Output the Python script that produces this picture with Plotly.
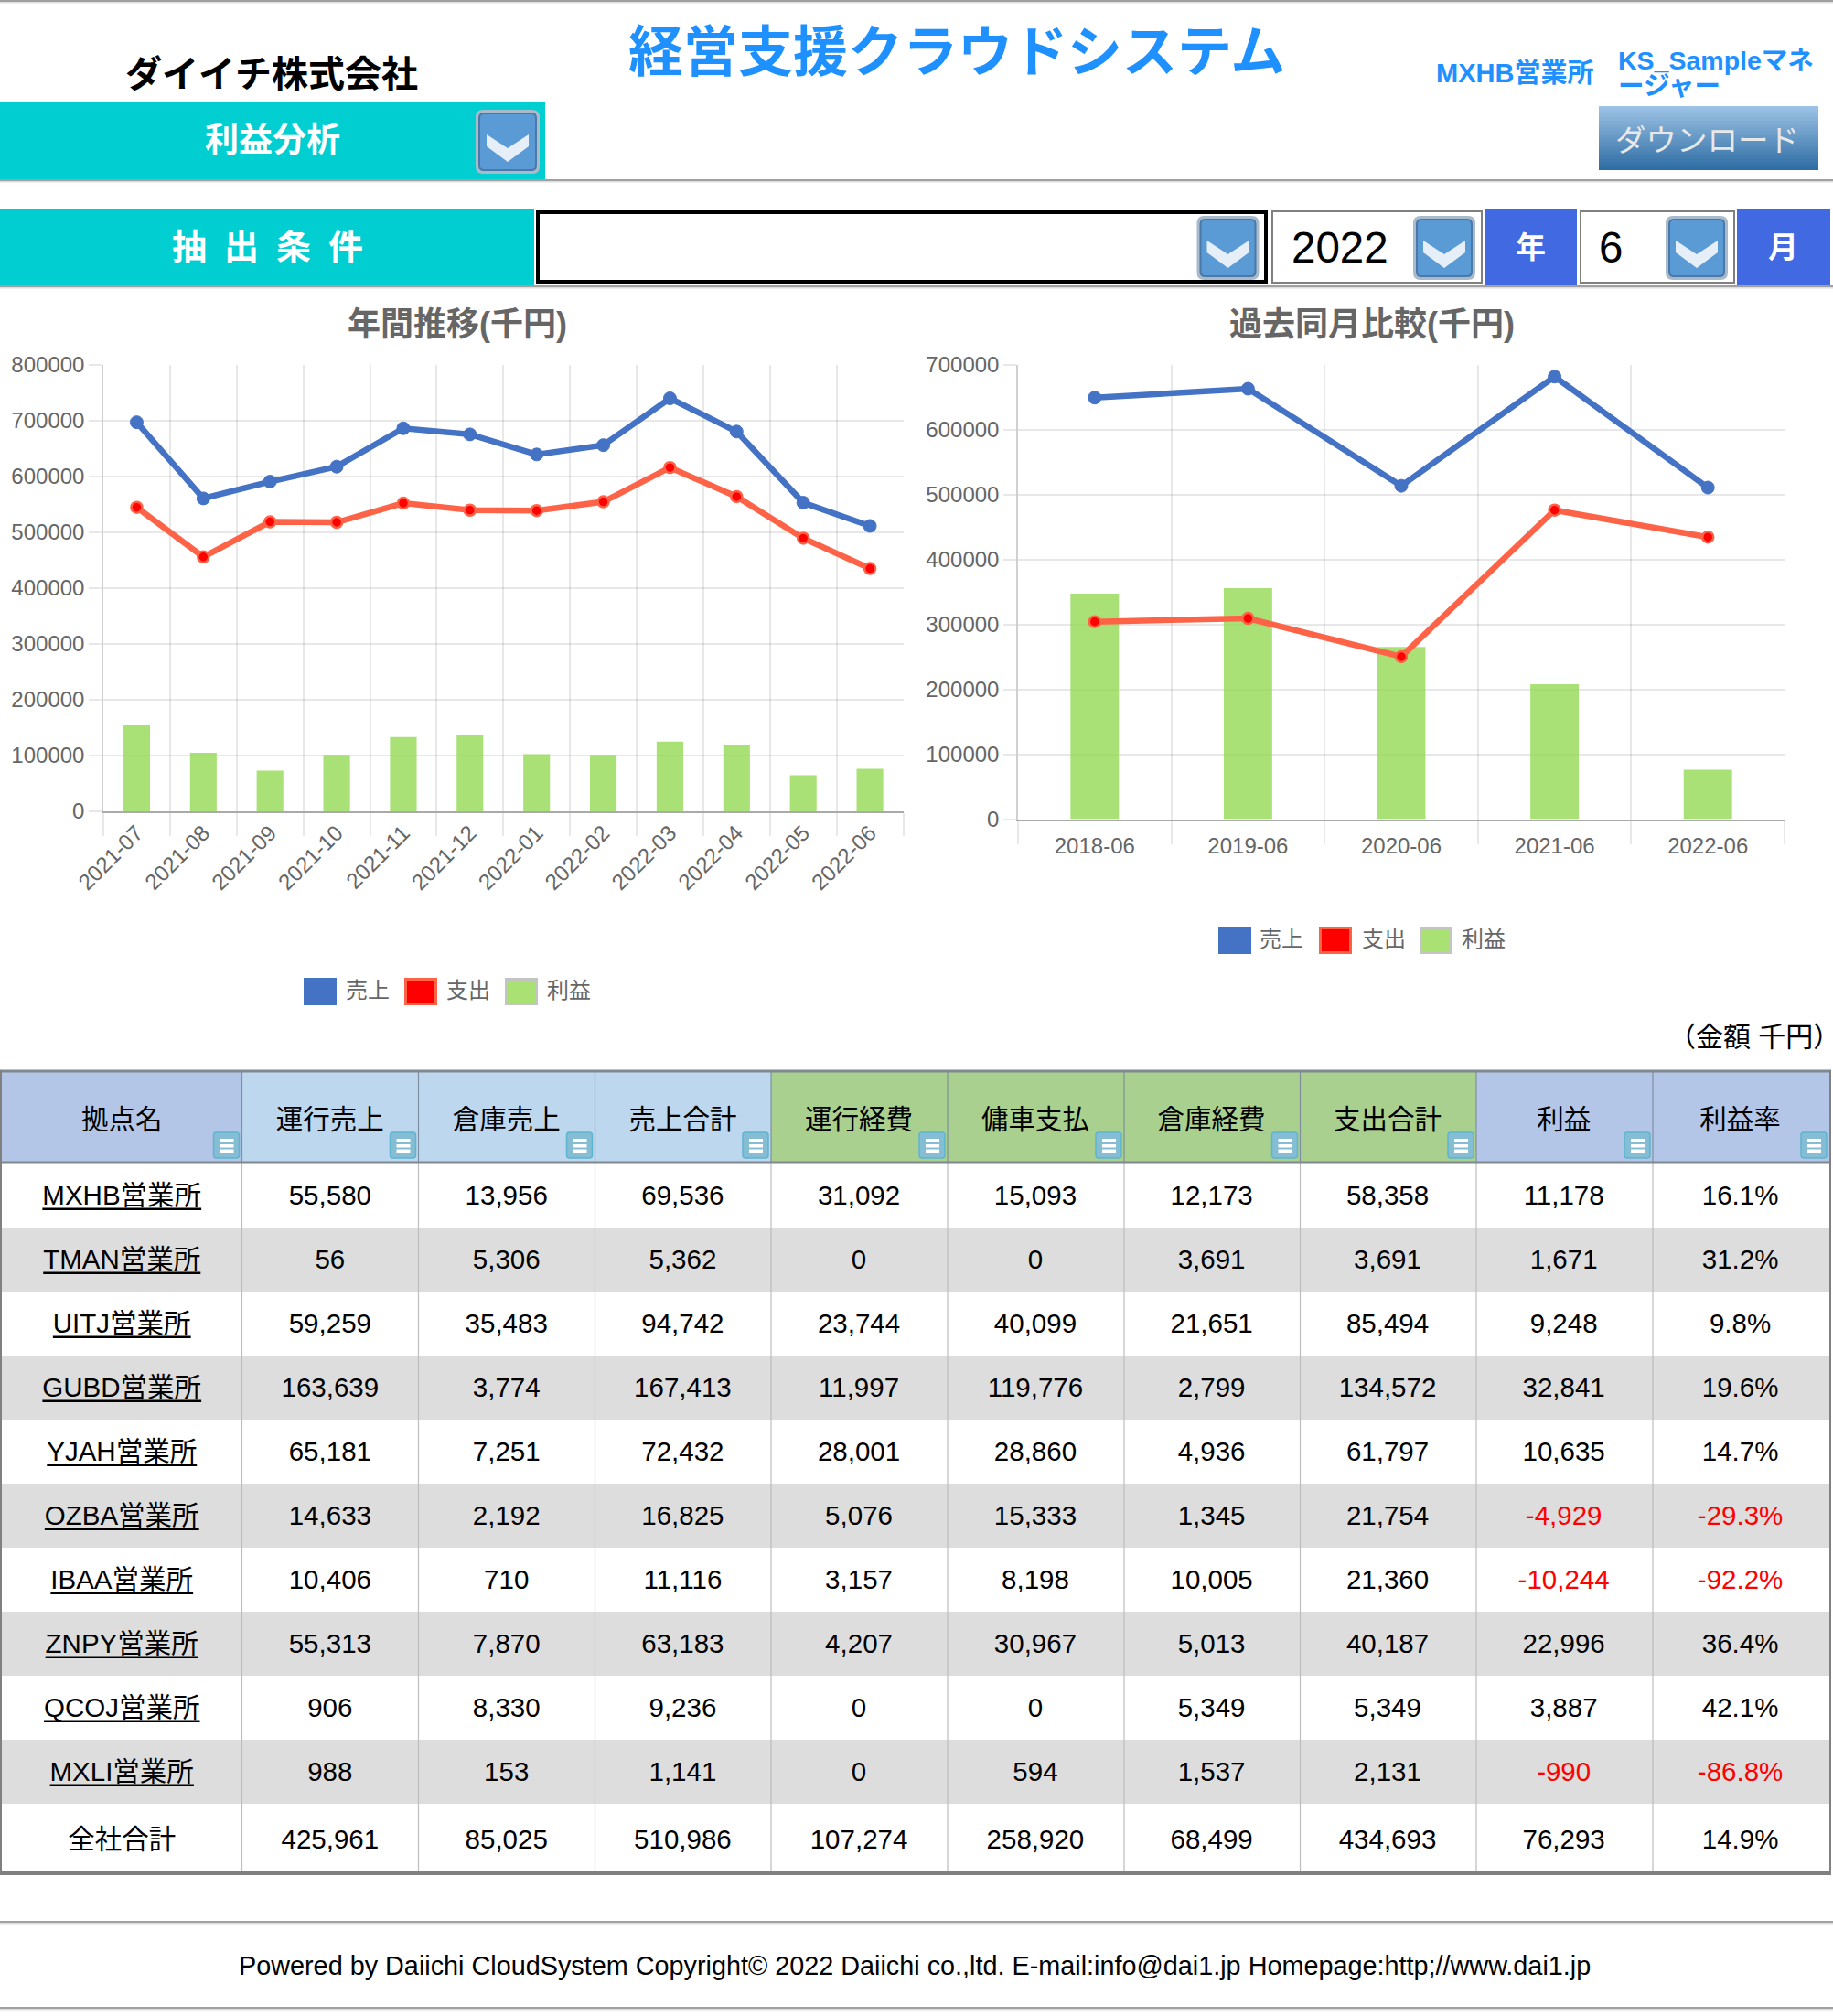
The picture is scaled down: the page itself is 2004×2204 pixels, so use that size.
import plotly.graph_objects as go

W, H = 2004, 2204
FONT = "Liberation Sans, Noto Sans CJK JP, sans-serif"

# ---- chart data ----
months = ["2021-07","2021-08","2021-09","2021-10","2021-11","2021-12","2022-01","2022-02","2022-03","2022-04","2022-05","2022-06"]
month_sales = [696600,560200,590300,617100,685800,674900,638900,655600,739400,679900,552600,510986]
month_cost = [544300,455500,518300,517500,551800,539200,538400,554300,615400,563500,489000,434693]
month_profit = [154100,104700,72900,101300,133100,136500,102200,101300,124800,118100,64500,76293]

years = ["2018-06","2019-06","2020-06","2021-06","2022-06"]
year_sales = [649600,663300,513700,682000,510986]
year_cost = [304300,309300,250300,476200,434693]
year_profit = [347500,356100,265500,207900,76293]

# ---- table data ----
col_headers = ["拠点名","運行売上","倉庫売上","売上合計","運行経費","傭車支払","倉庫経費","支出合計","利益","利益率"]
branches = ["MXHB営業所","TMAN営業所","UITJ営業所","GUBD営業所","YJAH営業所","OZBA営業所","IBAA営業所","ZNPY営業所","QCOJ営業所","MXLI営業所"]
unko_uri = [55580,56,59259,163639,65181,14633,10406,55313,906,988]
soko_uri = [13956,5306,35483,3774,7251,2192,710,7870,8330,153]
uri_total = [69536,5362,94742,167413,72432,16825,11116,63183,9236,1141]
unko_kei = [31092,0,23744,11997,28001,5076,3157,4207,0,0]
yosha = [15093,0,40099,119776,28860,15333,8198,30967,0,594]
soko_kei = [12173,3691,21651,2799,4936,1345,10005,5013,5349,1537]
shi_total = [58358,3691,85494,134572,61797,21754,21360,40187,5349,2131]
rieki = [11178,1671,9248,32841,10635,-4929,-10244,22996,3887,-990]
riekiritsu = [16.1,31.2,9.8,19.6,14.7,-29.3,-92.2,36.4,42.1,-86.8]
total_row = ["全社合計",425961,85025,510986,107274,258920,68499,434693,76293,14.9]

BLUE = "#4472C4"
TOMATO = "#FF6347"
RED = "#FF0000"
BAR = "rgba(146,217,80,0.78)"
TXT = "#666666"
GRID = "rgba(0,0,0,0.09)"
TURQ = "#00CED1"
ROYAL = "#4169E1"
LINK = "#1E90FF"

def X(p): return p / W
def Y(p): return 1 - p / H

shapes, annos = [], []

def rect(x0, y0, x1, y1, fill, line=None, lw=0):
    shapes.append(dict(type="rect", xref="paper", yref="paper", x0=X(x0), x1=X(x1), y0=Y(y0), y1=Y(y1),
                       fillcolor=fill, line=dict(color=line or "rgba(0,0,0,0)", width=lw), layer="below"))

def path(d, fill=None, line=None, lw=0):
    shapes.append(dict(type="path", xref="paper", yref="paper", path=d,
                       fillcolor=fill or "rgba(0,0,0,0)", line=dict(color=line or "rgba(0,0,0,0)", width=lw), layer="below"))

def text(t, x, y, size, color="#000", bold=False, anchor="center"):
    annos.append(dict(text=f"<b>{t}</b>" if bold else t, x=X(x), y=Y(y), xref="paper", yref="paper", showarrow=False,
                      xanchor=anchor, yanchor="middle", font=dict(size=size, color=color, family=FONT)))

def rrect_path(x0, y0, x1, y1, r):
    return (f"M{X(x0+r)},{Y(y0)} L{X(x1-r)},{Y(y0)} Q{X(x1)},{Y(y0)} {X(x1)},{Y(y0+r)} "
            f"L{X(x1)},{Y(y1-r)} Q{X(x1)},{Y(y1)} {X(x1-r)},{Y(y1)} L{X(x0+r)},{Y(y1)} "
            f"Q{X(x0)},{Y(y1)} {X(x0)},{Y(y1-r)} L{X(x0)},{Y(y0+r)} Q{X(x0)},{Y(y0)} {X(x0+r)},{Y(y0)} Z")

def dropdown(x0, y0, x1, y1):
    path(rrect_path(x0, y0, x1, y1, 8), fill="#A9BACB")
    path(rrect_path(x0+3, y0+3, x1-3, y1-3, 6), fill="#4A78A8")
    path(rrect_path(x0+5, y0+5, x1-5, y1-5, 4), fill="#5B9BD5")
    cx = (x0+x1)/2
    cy = (y0+y1)/2
    path(f"M{X(cx-23)},{Y(cy-8)} L{X(cx)},{Y(cy+7)} L{X(cx+23)},{Y(cy-8)} L{X(cx+23)},{Y(cy+5)} "
         f"L{X(cx)},{Y(cy+22)} L{X(cx-23)},{Y(cy+5)} Z", fill="#E6EFF8")

def hline(y, color="#A0A0A0", h=2.5):
    rect(0, y, W, y+h, color)
    rect(0, y+h, W, y+h+1.5, "#EEEEEE")

# ---- page header ----
hline(0)
hline(196)
hline(312)
hline(2100)
hline(2194)

text("ダイイチ株式会社", 297, 81, 40, "#000", True)
text("経営支援クラウドシステム", 1046, 58, 60, LINK, True)
text("MXHB営業所", 1656, 80, 29, LINK, True)
text("KS_Sampleマネ", 1767, 66, 28.5, LINK, True, "left")
text("ージャー", 1767, 94, 28.5, LINK, True, "left")

rect(0, 112, 596, 196, TURQ)
text("利益分析", 298, 153, 37, "#FFFFFF", True)
dropdown(520, 120, 590, 190)

# download button gradient
n = 35
for i in range(n):
    t = i / (n-1)
    c = (int(157+(46-157)*t), int(195+(109-195)*t), int(230+(164-230)*t))
    rect(1748, 116+i*2, 1988, 118+i*2, f"rgb{c}")
text("ダウンロード", 1866, 153, 33.5, "#E8E8E8")

# filter row
rect(0, 228, 584, 312, TURQ)
text("抽\u2002出\u2002条\u2002件", 292, 270, 38, "#FFFFFF", True)
rect(588, 232, 1384, 308, "#FFFFFF", "#000000", 4)
dropdown(1308.5, 236, 1376.5, 306)
rect(1391, 231, 1620, 309, "#FFFFFF", "#808080", 2)
text("2022", 1410, 270, 47.5, "#000", False, "left")
dropdown(1545, 236, 1613, 306)
rect(1623, 228, 1724, 312, ROYAL)
text("年", 1673, 270, 33, "#FFFFFF", True)
rect(1728, 231, 1896, 309, "#FFFFFF", "#808080", 2)
text("6", 1746, 270, 47.5, "#000", False, "left")
dropdown(1821, 236, 1889, 306)
rect(1899, 228, 2001, 312, ROYAL)
text("月", 1949, 270, 33, "#FFFFFF", True)

# chart titles
text("年間推移(千円)", 500, 354, 36, TXT, True)
text("過去同月比較(千円)", 1500, 354, 36, TXT, True)

# custom legends
def legend(xs, txs, y0, y1):
    names = ["売上", "支出", "利益"]
    rect(xs[0], y0, xs[0]+36, y1, BLUE)
    rect(xs[1]+1.5, y0+1.5, xs[1]+34.5, y1-1.5, RED, TOMATO, 3)
    rect(xs[2]+1.5, y0+1.5, xs[2]+34.5, y1-1.5, "#A9E272", "#C4C4C4", 3)
    for nm, tx in zip(names, txs):
        text(nm, tx, (y0+y1)/2 - 1.5, 24, TXT, False, "left")

legend([332, 442, 552], [375.5, 485.5, 595.5], 1069, 1099)
legend([1332, 1442, 1552], [1374.5, 1486.5, 1595.5], 1013, 1043)

text("（金額 千円）", 1918, 1133, 30, "#000")
text("Powered by Daiichi CloudSystem Copyright© 2022 Daiichi co.,ltd. E-mail:info@dai1.jp Homepage:http;//www.dai1.jp",
     1000, 2149, 28.8, "#000")

# ---- table background ----
edges = [2, 264.5, 457.5, 650.5, 843, 1036, 1229, 1421.5, 1614, 1807, 2000]
HEAD_T, HEAD_B, ROW_H = 1172, 1271, 70
TFONT = 29.5
head_fill = ["#B4C6E7","#BDD7EE","#BDD7EE","#BDD7EE","#A9D08E","#A9D08E","#A9D08E","#A9D08E","#B4C6E7","#B4C6E7"]
for i, f in enumerate(head_fill):
    rect(edges[i], HEAD_T, edges[i+1], HEAD_B, f)
for i in range(len(branches)):
    if i % 2 == 1:
        rect(edges[0], 1272+i*ROW_H, edges[-1], 1272+(i+1)*ROW_H, "#DDDDDD")
for e in edges[1:-1]:
    rect(e-0.6, HEAD_T, e+0.6, HEAD_B, "#7F8FA0")
    rect(e-0.6, HEAD_B, e+0.6, 2046, "#BDBDBD")
rect(0, 1169.5, W-2, 1172.5, "#808890")
rect(0, 1269.5, W-2, 1272.5, "#808890")
rect(0, 2046, W-2, 2050, "#808080")
rect(0, 1170, 2, 2050, "#808080")
rect(2000, 1170, 2002, 2050, "#808080")

# filter icons
for e in edges[1:]:
    x1 = e - 3
    path(rrect_path(x1-28, 1238, x1, 1266, 3), fill="#85BED4", line="#5EB5D0", lw=1.5)
    for yy in (1245, 1251, 1256.5):
        rect(x1-21, yy, x1-6, yy+3.5, "#FFFFFF")

# underlines of the branch links
CHAR_W = dict(M=.833,X=.667,H=.722,B=.667,T=.611,A=.667,N=.722,U=.722,I=.278,J=.5,G=.778,D=.722,Y=.667,O=.778,Z=.611,P=.667,Q=.778,C=.722,L=.556)
name_cx = (edges[0]+edges[1])/2
for i, b in enumerate(branches):
    wid = (sum(CHAR_W[c] for c in b[:4]) + 3) * TFONT
    rect(name_cx-wid/2, 1272+i*ROW_H+48.5, name_cx+wid/2, 1272+i*ROW_H+51, "#000000")

# ---- figure ----
fig = go.Figure()

def add_chart(cats, sales, cost, profit, xa, ya, bw):
    fig.add_trace(go.Bar(x=cats, y=profit, name="利益", xaxis=xa, yaxis=ya, width=bw,
                         marker=dict(color=BAR, line=dict(width=0))))
    fig.add_trace(go.Scatter(x=cats, y=cost, name="支出", xaxis=xa, yaxis=ya, mode="lines+markers",
                             line=dict(color=TOMATO, width=6.5),
                             marker=dict(color=RED, size=12, line=dict(color=TOMATO, width=2.5))))
    fig.add_trace(go.Scatter(x=cats, y=sales, name="売上", xaxis=xa, yaxis=ya, mode="lines+markers",
                             line=dict(color=BLUE, width=6.5),
                             marker=dict(color=BLUE, size=14, line=dict(color=BLUE, width=1))))

add_chart(months, month_sales, month_cost, month_profit, "x", "y", 0.4)
add_chart(years, year_sales, year_cost, year_profit, "x2", "y2", 0.316)

# ---- table ----
def fmt(v): return f"{v:,}"
def rcol(vals): return ["#FF0000" if v < 0 else "#000000" for v in vals]

columns = [branches] + [[fmt(v) for v in c] for c in (unko_uri, soko_uri, uri_total, unko_kei, yosha, soko_kei, shi_total, rieki)]
columns.append([f"{v}%" for v in riekiritsu])
colors = [["#000000"]*10]*8 + [rcol(rieki), rcol(riekiritsu)]
widths = [edges[i+1]-edges[i] for i in range(10)]

# text sits near the top of a plotly table cell, so the transparent table is set lower than its painted bands
TEXT_OFS = 20
T_HEAD = 1224 - TEXT_OFS
T_ROW = 1306.6 - TEXT_OFS
fig.add_trace(go.Table(
    domain=dict(x=[X(edges[0]), X(edges[-1])], y=[Y(T_ROW + 10*ROW_H), Y(T_HEAD)]),
    columnwidth=widths,
    header=dict(values=col_headers, height=T_ROW-T_HEAD, align="center", fill_color="rgba(0,0,0,0)",
                line_width=0, font=dict(size=TFONT, color="#000", family=FONT)),
    cells=dict(values=columns, height=ROW_H, align="center", fill_color="rgba(0,0,0,0)",
               line_width=0, font=dict(size=TFONT, color=colors, family=FONT)),
))

total_cells = [[total_row[0]]] + [[fmt(v)] for v in total_row[1:-1]] + [[f"{total_row[-1]}%"]]
TOTAL_TOP = 1975
fig.add_trace(go.Table(
    domain=dict(x=[X(edges[0]), X(edges[-1])], y=[Y(TOTAL_TOP+74), Y(TOTAL_TOP)]),
    columnwidth=widths,
    header=dict(values=[], height=0, line_width=0, fill_color="rgba(0,0,0,0)"),
    cells=dict(values=total_cells, height=74, align="center", fill_color="rgba(0,0,0,0)",
               line_width=0, font=dict(size=TFONT, color="#000", family=FONT)),
))

xcommon = dict(type="category", tickson="boundaries", showgrid=True, gridcolor=GRID, gridwidth=2, automargin=False,
               ticks="outside", ticklen=25, tickcolor=GRID, tickwidth=2, showline=True, linecolor="#AAAAAA", linewidth=2,
               tickfont=dict(size=24, color=TXT, family=FONT), zeroline=False)
ycommon = dict(showgrid=True, gridcolor=GRID, gridwidth=2, ticks="outside", ticklen=14, tickcolor=GRID, tickwidth=2, automargin=False,
               showline=True, linecolor="#D0D0D0", linewidth=1.5, zeroline=False, tickformat="d",
               tickfont=dict(size=24, color=TXT, family=FONT), ticklabelstandoff=0)

fig.update_layout(
    width=W, height=H, autosize=False, margin=dict(l=0, r=0, t=0, b=0, pad=0),
    paper_bgcolor="#FFFFFF", plot_bgcolor="rgba(0,0,0,0)", showlegend=False, barmode="overlay",
    font=dict(family=FONT),
    shapes=shapes, annotations=annos,
    xaxis=dict(domain=[X(113), X(987.5)], anchor="y", range=[-0.5, 11.5], tickangle=-45, ticklabelstandoff=-2, **xcommon),
    yaxis=dict(domain=[Y(887), Y(398.5)], anchor="x", range=[0, 800000], dtick=100000, **ycommon),
    xaxis2=dict(domain=[X(1113), X(1951)], anchor="y2", range=[-0.5, 4.5], ticklabelstandoff=7, **xcommon),
    yaxis2=dict(domain=[Y(895.5), Y(399)], anchor="x2", range=[0, 700000], dtick=100000, **ycommon),
)

fig.write_html("out.html", config=dict(displayModeBar=False),
               post_script="document.body.style.margin='0';document.documentElement.style.overflow='hidden';")
